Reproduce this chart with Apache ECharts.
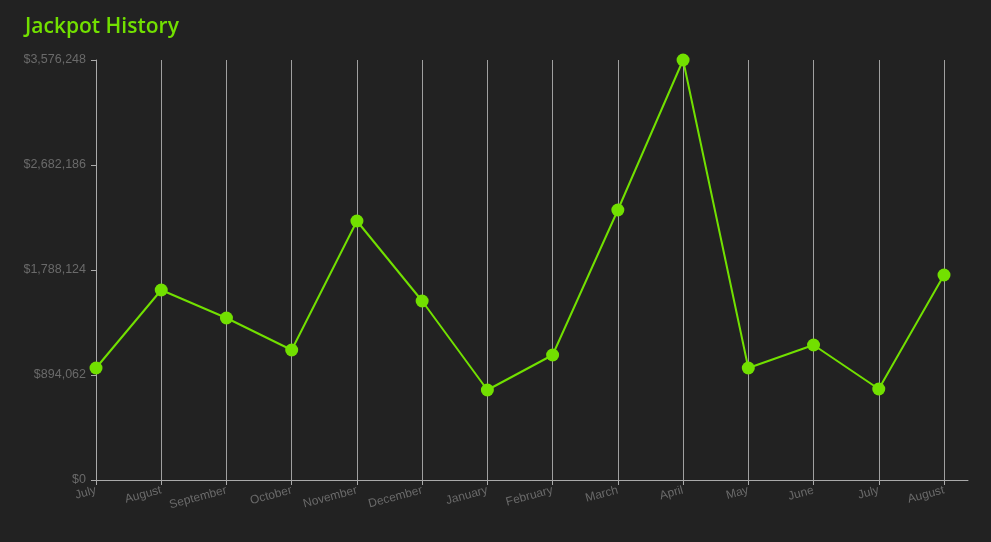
<!DOCTYPE html>
<html><head><meta charset="utf-8">
<script src="https://cdn.jsdelivr.net/npm/echarts@6/dist/echarts.min.js"></script>
<style>html,body{margin:0;padding:0;background:#222222;}#c{width:991px;height:542px;}</style>
</head><body><div id="c"></div>
<script>
var months = ['July','August','September','October','November','December','January','February','March','April','May','June','July','August'];
var jackpots = [953680, 1617850, 1379430, 1106950, 2205385, 1524185, 766350, 1064375, 2299050, 3576248, 953680, 1149525, 774865, 1745575];
var yMax = 3576248;
var yStep = 894062;
var title = 'Jackpot History';

var green = '#72e000';
var chart = echarts.init(document.getElementById('c'));
function fmt(v){ return '$' + Math.round(v).toLocaleString('en-US'); }
chart.setOption({
  backgroundColor: '#222222',
  animation: false,
  title: { text: title, left: 20, top: 12, textStyle: { color: green, fontSize: 21, fontWeight: 600, fontFamily: 'Open Sans' } },
  grid: [
    { left: 96, right: 47, top: 60, bottom: 62 },
    { left: 96, right: 23, top: 60, bottom: 62 }
  ],
  xAxis: [
    { type: 'category', gridIndex: 0, data: months, boundaryGap: false,
      axisLine: { show: false },
      axisTick: { show: true, length: 5, lineStyle: { color: '#aaaaaa' } },
      axisLabel: { color: '#6a6a6a', fontSize: 12, fontFamily: 'Liberation Sans', rotate: 15, margin: 10, interval: 0 },
      splitLine: { show: true, lineStyle: { color: '#a0a0a0', width: 1 } } },
    { type: 'value', gridIndex: 1, min: 0, max: 1,
      axisLine: { show: true, lineStyle: { color: '#aaaaaa' } },
      axisTick: { show: false }, axisLabel: { show: false }, splitLine: { show: false } }
  ],
  yAxis: [
    { type: 'value', gridIndex: 0, min: 0, max: yMax, interval: yStep,
      axisLine: { show: true, lineStyle: { color: '#aaaaaa' } },
      axisTick: { show: true, length: 5, lineStyle: { color: '#aaaaaa' } },
      axisLabel: { color: '#6a6a6a', fontSize: 12.5, fontFamily: 'Liberation Sans', margin: 10, formatter: fmt },
      splitLine: { show: false } },
    { type: 'value', gridIndex: 1, min: 0, max: 1, show: false }
  ],
  series: [{
    type: 'line', xAxisIndex: 0, yAxisIndex: 0, data: jackpots,
    symbol: 'circle', symbolSize: 13,
    itemStyle: { color: green },
    lineStyle: { color: green, width: 2 }
  }]
});
</script></body></html>
